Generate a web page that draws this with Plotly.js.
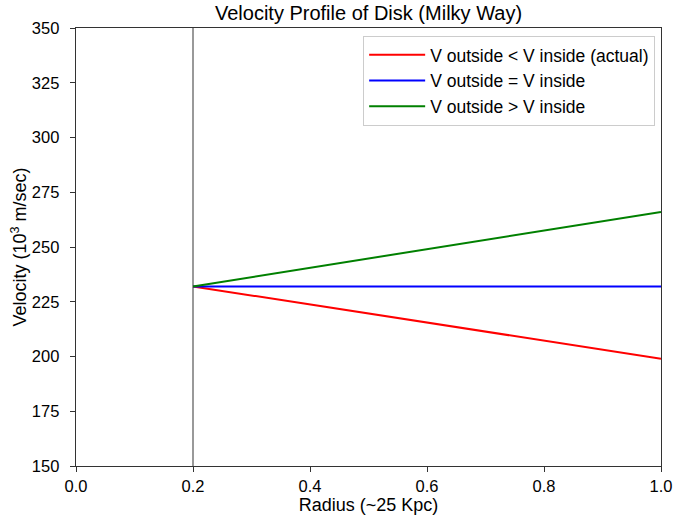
<!DOCTYPE html>
<html>
<head>
<meta charset="utf-8">
<script src="https://cdn.plot.ly/plotly-3.0.1.min.js"></script>
<style>
  html, body { margin: 0; padding: 0; background: #fff; }
  #plot { width: 685px; height: 517px; }
</style>
</head>
<body>
<div id="plot"></div>
<script>
// radius where the disk starts, and the three velocity profiles
const radius = [0.2, 1.0];
const seriesNames = [
  "V outside < V inside (actual)",
  "V outside = V inside",
  "V outside > V inside",
];
const vActual = [232, 199];
const vEqual = [232, 232];
const vGreater = [232, 266];
const seriesColors = ["#ff0000", "#0000ff", "#008000"];
const diskEdge = 0.2;
const yTicks = [150, 175, 200, 225, 250, 275, 300, 325, 350];
const xTicks = [0.0, 0.2, 0.4, 0.6, 0.8, 1.0];

const FONT = "Liberation Sans, Arial, sans-serif";

const traces = [vActual, vEqual, vGreater].map((ys, i) => ({
  type: "scatter",
  mode: "lines",
  x: radius,
  y: ys,
  name: seriesNames[i],
  line: { color: seriesColors[i], width: 2 },
}));

const axisBase = {
  showgrid: false,
  zeroline: false,
  showline: true,
  mirror: true,
  linecolor: "#333333",
  linewidth: 1.3,
  ticks: "outside",
  ticklen: 5,
  tickcolor: "#333333",
  tickfont: { family: FONT, size: 16.5, color: "#000" },
};

const layout = {
  width: 685,
  height: 517,
  paper_bgcolor: "#ffffff",
  plot_bgcolor: "#ffffff",
  margin: { l: 76, r: 24, t: 28, b: 51 },
  title: {
    text: "Velocity Profile of Disk (Milky Way)",
    font: { family: FONT, size: 20, color: "#000" },
    x: 0.5,
    xref: "paper",
    y: 0.974,
    yref: "container",
    yanchor: "middle",
  },
  xaxis: Object.assign({}, axisBase, {
    range: [0, 1],
    tickvals: xTicks,
    ticktext: xTicks.map((v) => v.toFixed(1)),
    title: { text: "Radius (~25 Kpc)", font: { family: FONT, size: 18, color: "#000" }, standoff: 4 },
  }),
  yaxis: Object.assign({}, axisBase, {
    range: [150, 350],
    tickvals: yTicks,
    ticklabelstandoff: 7,
    title: { text: "Velocity (10<sup>3</sup> m/sec)", font: { family: FONT, size: 18, color: "#000" }, standoff: 0 },
  }),
  shapes: [
    {
      type: "line",
      xref: "x",
      yref: "paper",
      x0: diskEdge,
      x1: diskEdge,
      y0: 0,
      y1: 1,
      line: { color: "#555555", width: 1.2 },
      layer: "below",
    },
  ],
  showlegend: true,
  legend: {
    x: 0.99,
    y: 0.982,
    xanchor: "right",
    yanchor: "top",
    bgcolor: "rgba(255,255,255,0.9)",
    bordercolor: "#cccccc",
    borderwidth: 1,
    itemwidth: 56,
    font: { family: FONT, size: 17.5, color: "#000" },
    tracegroupgap: 0,
  },
};

Plotly.newPlot("plot", traces, layout, { displayModeBar: false, staticPlot: true });
</script>
</body>
</html>
